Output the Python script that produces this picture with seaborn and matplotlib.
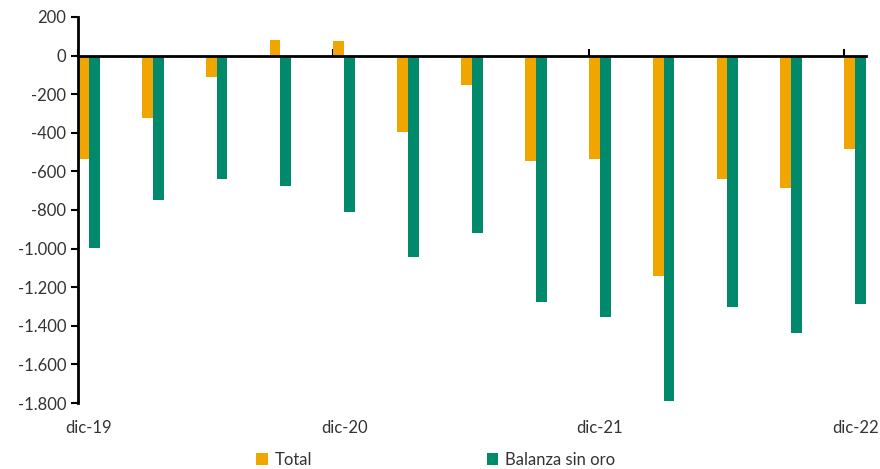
import pandas as pd
import matplotlib.pyplot as plt
import matplotlib.ticker as mticker
import seaborn as sns

# Quarterly data, dic-19 .. dic-22
quarters = ["dic-19", "mar-20", "jun-20", "sep-20", "dic-20", "mar-21", "jun-21",
            "sep-21", "dic-21", "mar-22", "jun-22", "sep-22", "dic-22"]
total = [-534, -321, -109, 83, 73, -394, -150, -544, -534, -1140, -637, -684, -482]
sin_oro = [-995, -746, -637, -674, -808, -1041, -920, -1275, -1352, -1788, -1300, -1435, -1285]
tick_labels = ["dic-19", "dic-20", "dic-21", "dic-22"]

df = pd.DataFrame({
    "trimestre": quarters * 2,
    "valor": total + sin_oro,
    "serie": ["Total"] * len(quarters) + ["Balanza sin oro"] * len(quarters),
})

sns.set_style("white")
plt.rcParams['font.family'] = ['Lato', 'DejaVu Sans']

fig = plt.figure(figsize=(8.8, 4.69), dpi=100)
ax = fig.add_axes([0.0886, 0.1407, 0.8954, 0.8231])

sns.barplot(data=df, x="trimestre", y="valor", hue="serie", order=quarters,
            palette={"Total": "#F0A500", "Balanza sin oro": "#00896A"},
            saturation=1, width=0.34, linewidth=0, ax=ax, legend=True)

ax.set_ylim(-1800, 200)
ax.set_xlim(-0.17, len(quarters) - 1 + 0.17)
ax.yaxis.set_major_locator(mticker.MultipleLocator(200))
ax.yaxis.set_major_formatter(mticker.FuncFormatter(
    lambda v, p: f"{int(v):,}".replace(",", ".")))

# x labels at the bottom, little tick marks on the zero line
tick_pos = [quarters.index(t) for t in tick_labels]
ax.set_xticks(tick_pos)
ax.set_xticklabels(tick_labels)
ax.set_xticks([p - 0.17 for p in tick_pos], minor=True)
ax.tick_params(axis='x', which='major', length=0, pad=12, labelsize=12, colors='#333333')
ax.tick_params(axis='x', which='minor', top=True, bottom=False, direction='out',
               length=5, width=1.5, color='black')
ax.tick_params(axis='y', which='major', left=True, direction='out', length=5, width=1.5,
               labelsize=12, labelcolor='#333333', color='black')

for s in ["right", "bottom"]:
    ax.spines[s].set_visible(False)
ax.spines["top"].set_position(("data", 0))
ax.spines["top"].set_linewidth(2)
ax.spines["top"].set_color("black")
ax.spines["left"].set_linewidth(2)
ax.spines["left"].set_color("black")

ax.set_xlabel("")
ax.set_ylabel("")

handles, labels = ax.get_legend_handles_labels()
ax.legend(handles, labels, loc="lower center", bbox_to_anchor=(0.495, -0.03),
          bbox_transform=fig.transFigure, ncol=2, frameon=False, fontsize=12,
          handlelength=0.7, handleheight=0.7, handletextpad=0.4, columnspacing=10.5,
          labelcolor='#333333')

plt.savefig("out.png", dpi=100)
plt.close()
